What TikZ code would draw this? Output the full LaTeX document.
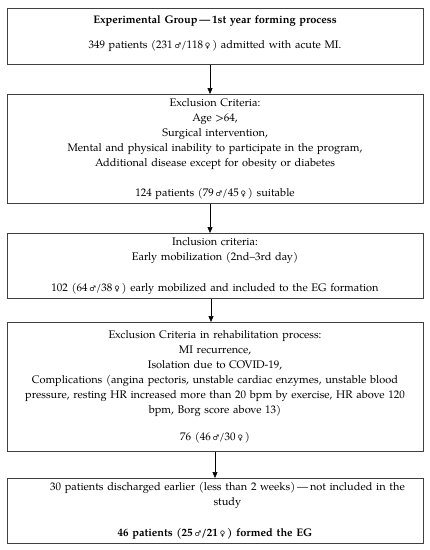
\documentclass[tikz,border=0pt]{standalone}
\usepackage{fontspec}
\setmainfont{TeX Gyre Pagella}
\newfontfamily\symfont{DejaVu Sans}
\newcommand\gm{{\symfont\fontsize{7.5}{7.5}\selectfont ♂}}
\newcommand\gf{{\symfont\fontsize{7.5}{7.5}\selectfont ♀}}
\usetikzlibrary{arrows.meta}
\begin{document}
\begin{tikzpicture}[x=1pt,y=1pt,
  box/.style={draw=black!75, line width=0.8pt, rectangle, anchor=north, inner xsep=3pt, inner ysep=0pt,
    text width=410pt, align=center, font={\fontsize{11}{15}\selectfont}},
  arr/.style={-{Triangle[length=6pt,width=5pt]}, line width=0.6pt, black}]
\useasboundingbox (0,0) rectangle (430,-550);
\fill[white] (0,0) rectangle (430,-550);
\node[box, minimum height=56pt] (b1) at (215,-8)
  {\textbf{Experimental Group\,—\,1st year forming process}\\[10pt]
   349 patients (231\,\gm/118\,\gf\,) admitted with acute MI.\rule[-8pt]{0pt}{8pt}};
\node[box, minimum height=109pt] (b2) at (215,-94)
  {Exclusion Criteria:\\
   Age >64,\\
   Surgical intervention,\\
   Mental and physical inability to participate in the program,\\
   Additional disease except for obesity or diabetes\\[15.7pt]
   124 patients (79\,\gm/45\,\gf\,) suitable};
\node[box, minimum height=65pt] (b3) at (215,-233)
  {Inclusion criteria:\\
   Early mobilization (2nd–3rd day)\\[15.6pt]
   102 (64\,\gm/38\,\gf\,) early mobilized and included to the EG formation};
\node[box, minimum height=129pt] (b4) at (215,-322)
  {Exclusion Criteria in rehabilitation process:\\
   MI recurrence,\\
   Isolation due to COVID-19,\\
   Complications (angina pectoris, unstable cardiac enzymes, unstable blood\\
   pressure, resting HR increased more than 20 bpm by exercise, HR above 120\\
   bpm, Borg score above 13)\\[12.6pt]
   76 (46\,\gm/30\,\gf\,)};
\node[box, minimum height=65pt] (b5) at (215,-478)
  {\hspace*{25pt}30 patients discharged earlier (less than 2 weeks)\,—\,not included in the\\
   \hspace*{25pt}study\\[15.7pt]
   \textbf{46 patients (25\,\gm/21\,\gf\,) formed the EG}};
\draw[arr] ([xshift=-5pt]b1.south) -- ([xshift=-5pt]b2.north);
\draw[arr] ([xshift=-5pt]b2.south) -- ([xshift=-5pt]b3.north);
\draw[arr] ([xshift=-4pt]b3.south) -- ([xshift=-4pt]b4.north);
\draw[arr] (b4.south) -- (b5.north);
\end{tikzpicture}
\end{document}
